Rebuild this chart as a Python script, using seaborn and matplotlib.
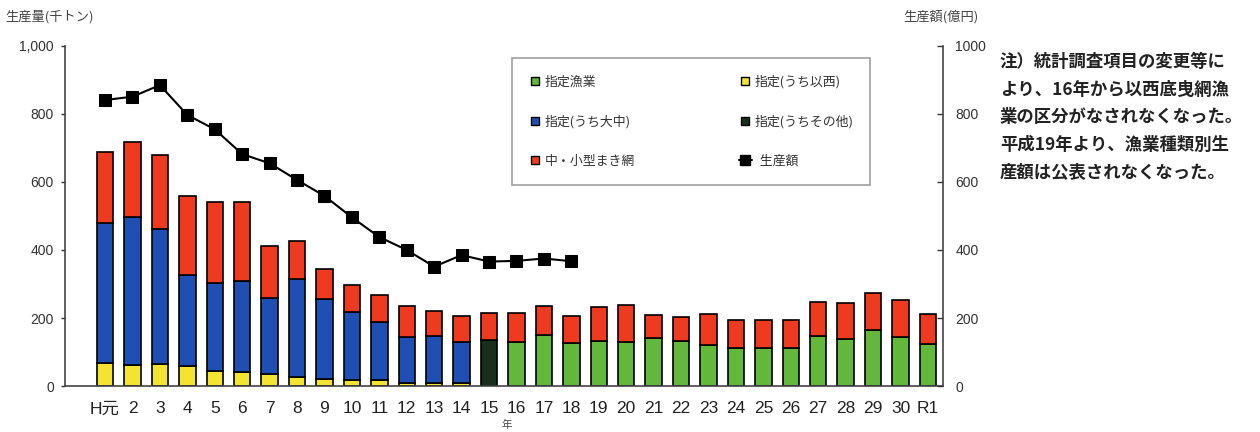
import numpy as np
import matplotlib
matplotlib.use("Agg")
import matplotlib.pyplot as plt
from matplotlib.lines import Line2D
import seaborn as sns

sns.set_style("white")
plt.rcParams['font.family'] = ['Liberation Sans', 'Noto Sans CJK JP', 'DejaVu Sans']
JP = ['Noto Sans CJK JP', 'DejaVu Sans']

years = ['H元', '2', '3', '4', '5', '6', '7', '8', '9', '10', '11', '12', '13', '14', '15',
         '16', '17', '18', '19', '20', '21', '22', '23', '24', '25', '26', '27', '28', '29', '30', 'R1']

# 指定(うち以西)  H1-H14
iseki = [67, 63, 65, 59, 45, 40, 36, 27, 22, 17, 17, 10, 10, 10]
# 指定(うち大中)  H1-H14
daichu = [413, 435, 396, 267, 257, 270, 224, 289, 234, 200, 170, 135, 137, 118]
# 指定(うちその他) H15
sonota = [134]
# 指定漁業 H16-R1
shitei = [129, 150, 126, 133, 129, 141, 131, 122, 112, 112, 112, 146, 137, 164, 144, 125]
# 中・小型まき網 H1-R1
makiami = [208, 220, 218, 233, 240, 232, 153, 109, 89, 80, 80, 91, 75, 79, 80,
           85, 86, 81, 100, 108, 69, 73, 91, 81, 83, 81, 100, 106, 110, 108, 88]
# 生産額(億円) H1-H18
value = [841, 851, 885, 797, 755, 682, 655, 606, 559, 496, 438, 400, 351, 385, 366, 368, 375, 367]

n = len(years)
x = np.arange(n)

C_GREEN = '#63b83b'
C_YEL = '#f3e431'
C_BLUE = '#1f4fb3'
C_DARK = '#17301d'
C_RED = '#ee3b1f'

fig = plt.figure(figsize=(12.6, 4.32), dpi=100)
ax = fig.add_axes([65 / 1260, 1 - 386 / 432, (943 - 65) / 1260, 340 / 432])

designated = np.zeros(n)
i_n = len(iseki)
bw = 0.6
ekw = dict(edgecolor='black', linewidth=1.2, width=bw)
ax.bar(x[:i_n], iseki, color=C_YEL, **ekw)
ax.bar(x[:i_n], daichu, bottom=iseki, color=C_BLUE, **ekw)
designated[:i_n] = np.array(iseki) + np.array(daichu)
ax.bar(x[i_n:i_n + 1], sonota, color=C_DARK, **ekw)
designated[i_n:i_n + 1] = sonota
ax.bar(x[i_n + 1:], shitei, color=C_GREEN, **ekw)
designated[i_n + 1:] = shitei
ax.bar(x, makiami, bottom=designated, color=C_RED, **ekw)

ax.set_xlim(-1.46, 30.55)
ax.set_ylim(0, 1000)
ax.set_yticks([0, 200, 400, 600, 800, 1000])
ax.set_yticklabels(['0', '200', '400', '600', '800', '1,000'])
ax.set_xticks(x)
ax.set_xticklabels(years)
ax.tick_params(axis='x', length=0, labelsize=12.5, pad=11, colors='#222222')
ax.tick_params(axis='y', direction='out', length=3, width=1, labelsize=10, pad=5,
               colors='#333333', left=True)
for s in ['top', 'right']:
    ax.spines[s].set_visible(False)
for s in ['left', 'bottom']:
    ax.spines[s].set_color('#444444')
    ax.spines[s].set_linewidth(1.2)

ax2 = ax.twinx()
sns.lineplot(x=x[:len(value)], y=value, ax=ax2, color='black', marker='s',
             markersize=8, markeredgecolor='black', linewidth=1.5)
ax2.set_ylim(0, 1000)
ax2.set_yticks([0, 200, 400, 600, 800, 1000])
ax2.set_yticklabels(['0', '200', '400', '600', '800', '1000'])
ax2.tick_params(axis='y', direction='in', length=4, width=1, labelsize=10, pad=9,
                colors='#333333', right=True)
for s in ['top', 'left', 'bottom']:
    ax2.spines[s].set_visible(False)
ax2.spines['right'].set_color('#444444')
ax2.spines['right'].set_linewidth(1.2)
ax2.set_ylabel('')

# Axis titles
fig.text(5 / 1260, 1 - 17 / 432, '生産量(千トン)', fontsize=9.5, color='#444444',
         va='center', ha='left', family=JP)
fig.text(903 / 1260, 1 - 17 / 432, '生産額(億円)', fontsize=9.5, color='#444444',
         va='center', ha='left', family=JP)
fig.text(507 / 1260, 1 - 425 / 432, '年', fontsize=7.5, color='#444444',
         va='center', ha='center', family=JP)

# Legend
def sq(c):
    return Line2D([], [], linestyle='none', marker='s', markersize=6,
                  markerfacecolor=c, markeredgecolor='black', markeredgewidth=1)

handles = [sq(C_GREEN), sq(C_BLUE), sq(C_RED), sq(C_YEL), sq(C_DARK),
           Line2D([], [], color='black', marker='s', markersize=7, linewidth=1.5)]
labels = ['指定漁業', '指定(うち大中)', '中・小型まき網', '指定(うち以西)', '指定(うちその他)', '  生産額']
leg = fig.legend(handles, labels, ncol=2, loc='upper left',
                 bbox_to_anchor=(512 / 1260, 1 - 58 / 432, 358 / 1260, 0.0),
                 mode='expand', borderaxespad=0.0,
                 frameon=True, fancybox=False, shadow=False,
                 prop={'family': JP, 'size': 9.3},
                 handlelength=1.0, handletextpad=0.2, labelspacing=2.05,
                 columnspacing=2.0, borderpad=1.3)
leg.get_frame().set_edgecolor('#888888')
leg.get_frame().set_linewidth(1.2)
for t in leg.get_texts():
    t.set_color('#333333')

# Note
note = ['注）統計調査項目の変更等に',
        'より、16年から以西底曳網漁',
        '業の区分がなされなくなった。',
        '平成19年より、漁業種類別生',
        '産額は公表されなくなった。']
for i, line in enumerate(note):
    fig.text(1000 / 1260, 1 - (62 + i * 27.5) / 432, line, fontsize=12.5,
             fontweight='bold', color='#222222', va='center', ha='left', family=JP)

fig.savefig('out.png', dpi=100)
